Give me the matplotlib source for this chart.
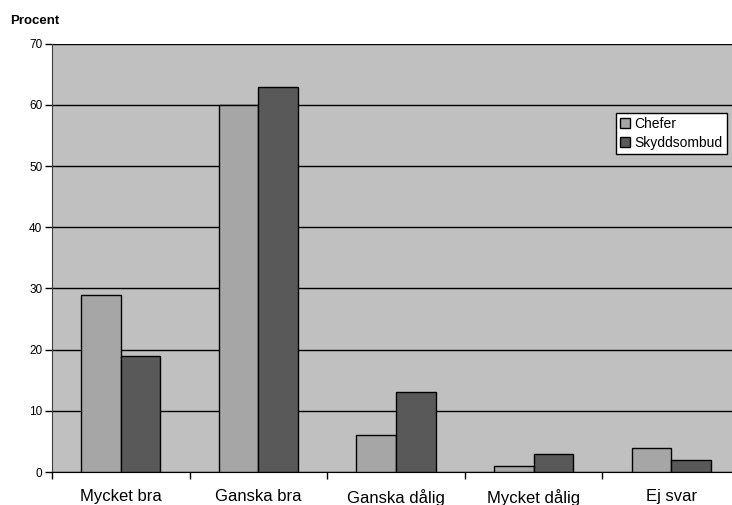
import matplotlib.pyplot as plt
import numpy as np

plt.rcParams['font.family'] = ['Liberation Sans', 'DejaVu Sans']

categories = ['Mycket bra', 'Ganska bra', 'Ganska dålig', 'Mycket dålig', 'Ej svar']
chefer = [29, 60, 6, 1, 4]
skyddsombud = [19, 63, 13, 3, 2]
yticks = [0, 10, 20, 30, 40, 50, 60, 70]

fig = plt.figure(figsize=(7.32, 5.05), dpi=100)
ax = fig.add_axes([0.071, 0.0653, 0.94, 0.848])
ax.set_facecolor('#c0c0c0')

x = np.arange(len(categories))
w = 0.288
ax.bar(x - w / 2, chefer, w, color='#a6a6a6', edgecolor='black', linewidth=1, label='Chefer', zorder=3)
ax.bar(x + w / 2, skyddsombud, w, color='#595959', edgecolor='black', linewidth=1, label='Skyddsombud', zorder=3)

ax.set_xlim(-0.5, len(categories) - 0.5)
ax.set_ylim(0, 70)
ax.set_yticks(yticks)
ax.yaxis.grid(True, color='black', linewidth=1, zorder=1)
ax.set_axisbelow(True)

# category separators as major ticks, names on minor ticks
ax.set_xticks(np.arange(len(categories) + 1) - 0.5, minor=False)
ax.set_xticklabels([])
ax.set_xticks(x, minor=True)
ax.set_xticklabels(categories, minor=True, fontsize=12)
ax.tick_params(axis='x', which='major', length=5, direction='out', width=1)
ax.tick_params(axis='x', which='minor', length=0, pad=12)
ax.tick_params(axis='y', length=5, labelsize=8.5, width=1, pad=2)

for s in ['top', 'right']:
    ax.spines[s].set_visible(False)
ax.spines['left'].set_color('#404040')
ax.spines['bottom'].set_color('black')

fig.text(0.014, 0.959, 'Procent', fontsize=9.5, fontweight='bold', va='center')

leg = ax.legend(loc='upper left', bbox_to_anchor=(0.820, 0.839), frameon=True, fancybox=False,
                edgecolor='black', framealpha=1, fontsize=10, handlelength=0.7, handleheight=0.7,
                handletextpad=0.3, borderpad=0.3, labelspacing=0.35, borderaxespad=0)
leg.get_frame().set_linewidth(1)

fig.savefig('out.png', dpi=100)
